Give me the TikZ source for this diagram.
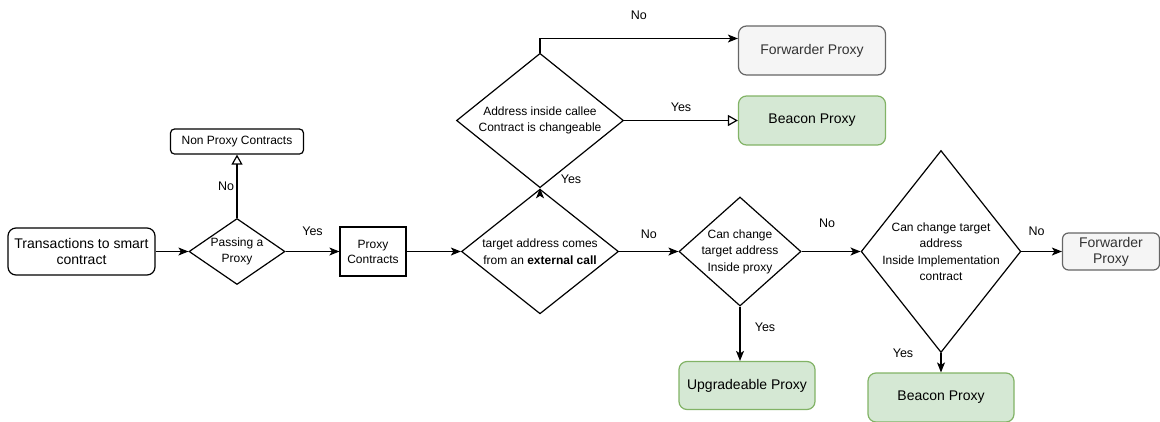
\documentclass[tikz,border=0pt]{standalone}
\usepackage{fontspec}
\setmainfont{Liberation Sans}
\usetikzlibrary{shapes.geometric,arrows.meta,positioning}

\definecolor{greyfill}{HTML}{F5F5F5}
\definecolor{greyline}{HTML}{666666}
\definecolor{greytext}{HTML}{333333}
\definecolor{greenfill}{HTML}{D5E8D4}
\definecolor{greenline}{HTML}{82B366}

\begin{document}
\begin{tikzpicture}[x=1pt,y=1pt,on grid,line width=1.2pt,
    >={Stealth[length=10pt,width=8pt,inset=2.5pt]},
    hollow/.style={-{Triangle[open,length=10pt,width=11pt]}},
    box/.style={draw,rounded corners=8pt,align=center,font=\fontsize{14}{16}\selectfont},
    sqbox/.style={draw,align=center,font=\fontsize{12}{15}\selectfont},
    decision/.style={diamond,draw,inner sep=-4pt,align=center,font=\fontsize{12}{16.5}\selectfont},
    greybox/.style={box,fill=greyfill,draw=greyline,text=greytext},
    greenbox/.style={box,fill=greenfill,draw=greenline},
    lbl/.style={font=\fontsize{12.5}{14}\selectfont}]
    \useasboundingbox (0,0) rectangle (1160,-421);

    \node[box,minimum width=147pt,minimum height=47pt] (trans) at (81.5,-251.5) {Transactions to smart\\contract};
    \node[decision,minimum width=96pt,minimum height=66pt]   (pass)     [right=155.5pt of trans]  {Passing a\\Proxy};
    \node[sqbox,rounded corners=4pt,minimum width=133pt,minimum height=25pt] (nonproxy) [above=110pt of pass] {Non Proxy Contracts};
    \node[sqbox,minimum width=66pt,minimum height=49pt]      (proxy)    [right=136pt of pass]     {Proxy\\Contracts};
    \node[decision,minimum width=157pt,minimum height=124pt] (ext)      [right=167pt of proxy]    {target address comes\\from an \textbf{external call}};
    \node[decision,minimum width=167pt,minimum height=90pt]  (callee)   [above=131pt of ext]      {Address inside callee\\Contract is changeable};
    \node[greenbox,minimum width=147pt,minimum height=49pt]  (beacon1)  [right=272pt of callee]   {Beacon Proxy};
    \node[greybox,minimum width=147pt,minimum height=49pt]   (fwd1)     [above=70pt of beacon1]   {Forwarder Proxy};
    \node[decision,minimum width=122pt,minimum height=109pt] (inproxy)  [right=200pt of ext]      {Can change\\target address\\Inside proxy};
    \node[greenbox,minimum width=136pt,minimum height=48pt]  (upg)      [below right=134pt and 7pt of inproxy] {Upgradeable Proxy};
    \node[decision,minimum width=145pt,minimum height=202pt] (inimpl)   [right=201pt of inproxy]  {Can change target\\address\\Inside Implementation\\contract};
    \node[greenbox,minimum width=146pt,minimum height=49pt]  (beacon2)  [below=146pt of inimpl]   {Beacon Proxy};
    \node[greybox,rounded corners=6pt,minimum width=97pt,minimum height=37pt] (fwd2) [right=170pt of inimpl] {Forwarder\\Proxy};

    \path[->] (trans)   edge (pass)
              (pass)    edge[hollow] node[lbl,xshift=-11pt] {No} (nonproxy)
              (pass)    edge node[lbl,yshift=20pt] {Yes} (proxy)
              (proxy)   edge (ext)
              (ext)     edge node[lbl,xshift=31pt,yshift=9pt] {Yes} (callee)
              (callee)  edge[hollow] node[lbl,yshift=13pt] {Yes} (beacon1)
              (ext)     edge node[lbl,yshift=17pt] {No} (inproxy)
              (inproxy) edge node[lbl,xshift=-4pt,yshift=28pt] {No} (inimpl)
              (inimpl)  edge node[lbl,xshift=-5pt,yshift=20pt] {No} (fwd2)
              (inimpl)  edge node[lbl,pos=0,xshift=-38pt] {Yes} (beacon2);
    \draw[->] (callee.north) |- node[lbl,pos=0.75,yshift=23pt] {No} ([yshift=12pt]fwd1.west);
    \draw[->] (inproxy.south) -- node[lbl,xshift=25pt,yshift=6pt] {Yes} (inproxy.south |- upg.north);
\end{tikzpicture}
\end{document}
